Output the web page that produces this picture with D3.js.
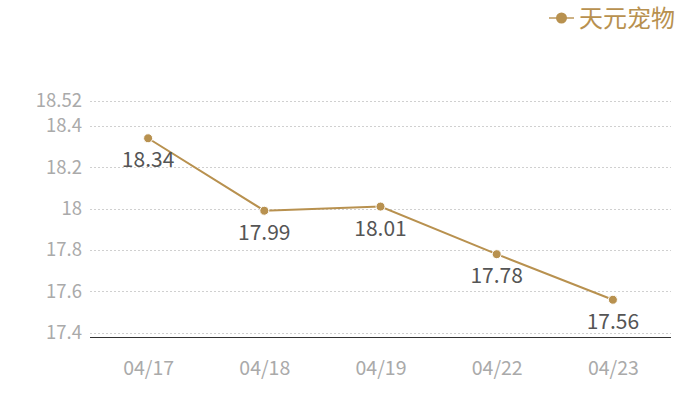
<!DOCTYPE html>
<html>
<head>
<meta charset="utf-8">
<script src="https://cdn.jsdelivr.net/npm/d3@7"></script>
<style>
  body { margin: 0; background: #fff; }
  svg text { font-family: "Noto Sans CJK SC", "Open Sans", sans-serif; }
</style>
</head>
<body>
<div class="chart"></div>
<script>
const dates = ['04/17', '04/18', '04/19', '04/22', '04/23'];
const prices = [18.34, 17.99, 18.01, 17.78, 17.56];
const yTicks = [17.4, 17.6, 17.8, 18, 18.2, 18.4, 18.52];
const seriesName = '天元宠物';

const svgWidth = 700;
const svgHeight = 400;
const margin = { top: 101, right: 29, bottom: 63, left: 90 };
const width = svgWidth - margin.left - margin.right;
const height = svgHeight - margin.top - margin.bottom;
const gold = '#b8914f';

const svg = d3.select('.chart')
  .append('svg')
  .attr('width', svgWidth)
  .attr('height', svgHeight);

const chartGroup = svg.append('g')
  .attr('transform', `translate(${margin.left}, ${margin.top})`);

// x: category bands, y: linear with padded range
const xScale = d3.scalePoint()
  .domain(dates)
  .range([0, width])
  .padding(0.5);

const yScale = d3.scaleLinear()
  .domain([17.38, 18.52])
  .range([height, 0]);

// gridlines
chartGroup.selectAll('.grid')
  .data(yTicks)
  .enter()
  .append('line')
  .attr('x1', 0)
  .attr('x2', width)
  .attr('y1', d => Math.round(yScale(d)) + 0.5)
  .attr('y2', d => Math.round(yScale(d)) + 0.5)
  .attr('stroke', '#d0d0d0')
  .attr('stroke-dasharray', '2,2');

// y axis labels
const leftAxis = d3.axisLeft(yScale)
  .tickValues(yTicks)
  .tickFormat(d => String(d))
  .tickSize(0)
  .tickPadding(8);

const yAxis = chartGroup.append('g').call(leftAxis);
yAxis.select('.domain').remove();
yAxis.selectAll('text')
  .attr('fill', '#aaa')
  .style('font-size', '18.5px');

// x axis
const bottomAxis = d3.axisBottom(xScale)
  .tickSize(0)
  .tickPadding(24);

const xAxis = chartGroup.append('g')
  .attr('transform', `translate(0, ${height + 0.5})`)
  .call(bottomAxis);
xAxis.select('.domain')
  .attr('stroke', '#333')
  .attr('d', `M0,0H${width}`);
xAxis.selectAll('text')
  .attr('fill', '#aaa')
  .style('font-size', '19.5px');

// line
const line = d3.line()
  .x((d, i) => xScale(dates[i]))
  .y(d => yScale(d));

chartGroup.append('path')
  .datum(prices)
  .attr('d', line)
  .attr('fill', 'none')
  .attr('stroke', gold)
  .attr('stroke-width', 2);

// points
chartGroup.selectAll('circle')
  .data(prices)
  .enter()
  .append('circle')
  .attr('cx', (d, i) => xScale(dates[i]))
  .attr('cy', d => yScale(d))
  .attr('r', 4.5)
  .attr('fill', gold)
  .attr('stroke', '#fff')
  .attr('stroke-width', 1);

// value labels
chartGroup.selectAll('.valueLabel')
  .data(prices)
  .enter()
  .append('text')
  .attr('x', (d, i) => xScale(dates[i]))
  .attr('y', d => yScale(d) + 29)
  .attr('text-anchor', 'middle')
  .attr('fill', '#555')
  .style('font-size', '21px')
  .text(d => d.toFixed(2));

// legend
const legend = svg.append('g')
  .attr('transform', 'translate(549, 18)');
legend.append('line')
  .attr('x1', 0)
  .attr('x2', 25)
  .attr('stroke', gold)
  .attr('stroke-width', 2)
  .attr('opacity', 0.7);
legend.append('circle')
  .attr('cx', 12.5)
  .attr('r', 5.5)
  .attr('fill', gold);
legend.append('text')
  .attr('x', 30)
  .attr('dy', '0.36em')
  .attr('fill', gold)
  .style('font-size', '24px')
  .text(seriesName);
</script>
</body>
</html>
